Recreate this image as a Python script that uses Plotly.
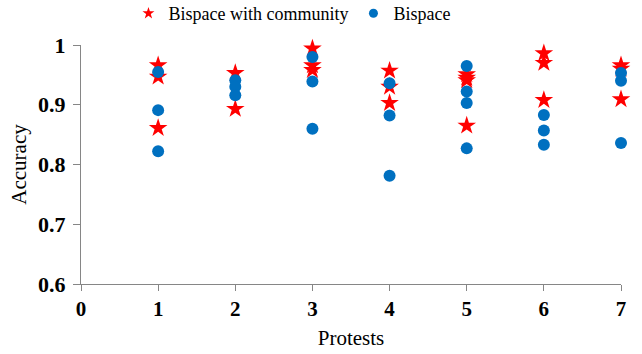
import plotly.graph_objects as go

# Accuracy per protest, several runs each
community_protest = [1, 1, 1, 2, 2, 3, 3, 3, 4, 4, 4, 5, 5, 5, 5, 6, 6, 6, 7, 7, 7]
community_acc = [0.966, 0.947, 0.861, 0.953, 0.893, 0.994, 0.966, 0.958,
                 0.957, 0.930, 0.903, 0.951, 0.945, 0.941, 0.865,
                 0.986, 0.970, 0.908, 0.966, 0.960, 0.909]

bispace_protest = [1, 1, 1, 2, 2, 2, 3, 3, 3, 4, 4, 4, 5, 5, 5, 5, 6, 6, 6, 7, 7, 7]
bispace_acc = [0.955, 0.891, 0.822, 0.941, 0.930, 0.916, 0.980, 0.939, 0.860,
               0.936, 0.882, 0.781, 0.965, 0.922, 0.903, 0.827,
               0.883, 0.857, 0.833, 0.953, 0.940, 0.836]

x_ticks = [0, 1, 2, 3, 4, 5, 6, 7]
y_ticks = [0.6, 0.7, 0.8, 0.9, 1.0]
y_tick_text = ["0.6", "0.7", "0.8", "0.9", "1"]

RED = "#FF0000"
BLUE = "#0070C0"
AXIS = "#868686"
FONT = "Liberation Serif"

W, H = 642, 354
M_L, M_R, M_T, M_B = 80.5, 21, 45, 69.5
PLOT_W = W - M_L - M_R
PLOT_H = H - M_T - M_B

fig = go.Figure()

fig.add_trace(go.Scatter(
    x=community_protest, y=community_acc, mode="markers",
    name="Bispace with community", showlegend=False,
    marker=dict(symbol="star", size=14, color=RED, line=dict(width=0)),
    cliponaxis=False,
))
fig.add_trace(go.Scatter(
    x=bispace_protest, y=bispace_acc, mode="markers",
    name="Bispace", showlegend=False,
    marker=dict(symbol="circle", size=12, color=BLUE, line=dict(width=0)),
    cliponaxis=False,
))

# legend entries with smaller symbols
fig.add_trace(go.Scatter(
    x=[None], y=[None], mode="markers", name="Bispace with community",
    marker=dict(symbol="star", size=9, color=RED, line=dict(width=0)),
))
fig.add_trace(go.Scatter(
    x=[None], y=[None], mode="markers", name="Bispace",
    marker=dict(symbol="circle", size=9, color=BLUE, line=dict(width=0)),
))

fig.update_layout(
    width=W, height=H,
    margin=dict(l=M_L, r=M_R, t=M_T, b=M_B, autoexpand=False),
    paper_bgcolor="white", plot_bgcolor="white",
    font=dict(family=FONT, size=20, color="black"),
    legend=dict(
        orientation="h",
        x=(128 - M_L) / PLOT_W, xref="paper", xanchor="left",
        y=1 + (M_T + 5) / PLOT_H, yref="paper", yanchor="top",
        font=dict(family=FONT, size=18, color="black"),
        itemwidth=30, bgcolor="rgba(0,0,0,0)",
    ),
    showlegend=True,
)

fig.update_xaxes(
    range=[0, 7], tickvals=x_ticks, showgrid=False, zeroline=False,
    showline=True, linecolor=AXIS, linewidth=1,
    ticks="outside", ticklen=6, tickcolor=AXIS,
    tickfont=dict(family=FONT, size=21, weight="bold", color="black"),
    title=dict(text="Protests", font=dict(family=FONT, size=21), standoff=10),
)
fig.update_yaxes(
    range=[0.6, 1.0], tickvals=y_ticks, ticktext=y_tick_text,
    showgrid=False, zeroline=False,
    showline=True, linecolor=AXIS, linewidth=1,
    ticks="outside", ticklen=7, tickcolor=AXIS, ticklabelstandoff=3,
    tickfont=dict(family=FONT, size=22, weight="bold", color="black"),
    title=dict(text="Accuracy", font=dict(family=FONT, size=21), standoff=5),
)

fig.write_html("out.html")
